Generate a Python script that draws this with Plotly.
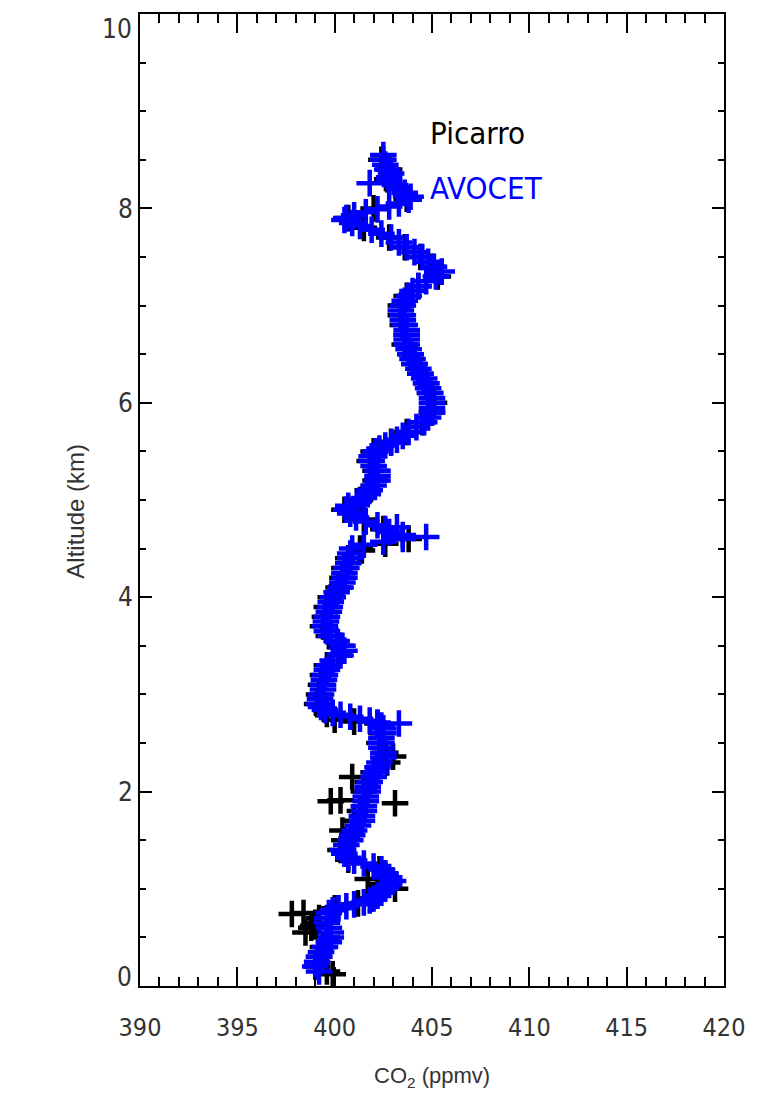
import plotly.graph_objects as go

# AVOCET (blue) profile: altitude (km) and CO2 (ppmv)
avocet_alt = [0.15, 0.20, 0.25, 0.30, 0.35, 0.40, 0.45, 0.50, 0.55, 0.60, 0.65, 0.70, 0.75, 0.78,
              0.80, 0.82, 0.84, 0.86, 0.88, 0.90, 0.93, 0.96, 1.00, 1.04, 1.08, 1.12, 1.16, 1.20,
              1.23, 1.26, 1.29, 1.32, 1.36, 1.40, 1.45, 1.50, 1.55, 1.60, 1.65, 1.70, 1.75, 1.80,
              1.85, 1.90, 1.95, 2.00, 2.05, 2.10, 2.15, 2.20, 2.25, 2.30, 2.35, 2.40, 2.45, 2.50,
              2.55, 2.60, 2.65, 2.68, 2.70, 2.71, 2.73, 2.75, 2.77, 2.79, 2.81, 2.84, 2.87, 2.90,
              2.95, 3.00, 3.05, 3.10, 3.15, 3.20, 3.25, 3.30, 3.35, 3.40, 3.45, 3.50, 3.55, 3.60,
              3.65, 3.70, 3.75, 3.80, 3.85, 3.90, 3.95, 4.00, 4.05, 4.10, 4.15, 4.20, 4.25, 4.30,
              4.35, 4.40, 4.45, 4.50, 4.54, 4.57, 4.60, 4.62, 4.64, 4.67, 4.70, 4.72, 4.74, 4.78,
              4.82, 4.86, 4.90, 4.94, 4.98, 5.02, 5.06, 5.10, 5.15, 5.20, 5.25, 5.30, 5.35, 5.40,
              5.45, 5.50, 5.53, 5.56, 5.59, 5.62, 5.66, 5.70, 5.75, 5.80, 5.85, 5.90, 5.95, 6.00,
              6.05, 6.10, 6.15, 6.20, 6.25, 6.30, 6.35, 6.40, 6.45, 6.50, 6.55, 6.60, 6.65, 6.70,
              6.75, 6.80, 6.85, 6.90, 6.95, 7.00, 7.05, 7.10, 7.15, 7.20, 7.25, 7.30, 7.35, 7.40,
              7.45, 7.50, 7.55, 7.60, 7.65, 7.70, 7.74, 7.78, 7.82, 7.85, 7.88, 7.90, 7.93, 7.96,
              7.99, 8.02, 8.05, 8.09, 8.12, 8.16, 8.20, 8.24, 8.26, 8.28, 8.32, 8.36, 8.40, 8.45,
              8.50, 8.55]
avocet_co2 = [399.2, 399.0, 399.1, 399.2, 399.3, 399.5, 399.7, 399.8, 399.8, 399.7, 399.6, 399.6, 399.7, 399.9,
              400.2, 400.6, 401.0, 401.5, 401.8, 402.0, 402.2, 402.4, 402.6, 402.8, 403.0, 402.8, 402.6, 402.4,
              402.0, 401.5, 401.0, 400.7, 400.5, 400.4, 400.6, 400.8, 400.9, 401.0, 401.2, 401.4, 401.4, 401.5,
              401.5, 401.6, 401.6, 401.7, 401.7, 401.8, 402.0, 402.1, 402.2, 402.3, 402.5, 402.5, 402.4, 402.4,
              402.4, 402.5, 402.5, 402.4, 403.3, 402.2, 401.8, 401.3, 400.8, 400.3, 399.9, 399.5, 399.3, 399.2,
              399.25, 399.3, 399.4, 399.4, 399.45, 399.5, 399.6, 399.7, 399.9, 400.3, 400.5, 400.4, 400.1, 399.8,
              399.6, 399.5, 399.55, 399.6, 399.7, 399.75, 399.8, 399.9, 400.1, 400.3, 400.4, 400.5, 400.5, 400.6,
              400.7, 400.8, 400.8, 400.9, 401.5, 402.5, 403.5, 404.7, 403.5, 402.8, 402.6, 403.2, 402.2, 401.6,
              401.1, 400.8, 400.6, 400.7, 401.2, 401.5, 401.7, 401.8, 402.0, 402.2, 402.2, 402.2, 402.0, 401.9,
              401.9, 402.1, 402.3, 402.6, 402.9, 403.2, 403.5, 403.8, 404.2, 404.6, 404.8, 405.0, 405.0, 405.0,
              405.0, 404.9, 404.8, 404.7, 404.6, 404.4, 404.3, 404.1, 404.0, 403.9, 403.8, 403.7, 403.7, 403.7,
              403.7, 403.6, 403.5, 403.5, 403.4, 403.5, 403.6, 403.8, 404.0, 404.3, 404.7, 405.2, 405.5, 405.1,
              404.8, 404.5, 404.1, 403.7, 403.3, 402.9, 402.4, 401.9, 401.3, 400.9, 400.5, 400.6, 401.0, 401.6,
              402.2, 402.8, 403.3, 403.8, 403.9, 403.6, 403.3, 403.1, 401.8, 402.8, 402.8, 402.9, 402.7, 402.6,
              402.5, 402.5]

# Picarro (black) profile
picarro_alt = [0.12, 0.15, 0.20, 0.30, 0.40, 0.50, 0.55, 0.60, 0.62, 0.65, 0.70, 0.74, 0.75, 0.80,
               0.85, 0.90, 0.95, 1.00, 1.05, 1.10, 1.15, 1.20, 1.30, 1.40, 1.50, 1.60, 1.70, 1.80,
               1.88, 1.90, 1.91, 2.00, 2.10, 2.15, 2.20, 2.30, 2.36, 2.40, 2.50, 2.60, 2.70, 2.72,
               2.74, 2.80, 2.90, 3.00, 3.10, 3.20, 3.30, 3.40, 3.50, 3.60, 3.70, 3.80, 3.90, 4.00,
               4.10, 4.20, 4.30, 4.40, 4.48, 4.50, 4.55, 4.60, 4.70, 4.80, 4.90, 5.00, 5.10, 5.20,
               5.30, 5.40, 5.50, 5.60, 5.70, 5.80, 5.90, 6.00, 6.10, 6.20, 6.30, 6.40, 6.50, 6.60,
               6.70, 6.80, 6.90, 7.00, 7.10, 7.20, 7.30, 7.40, 7.50, 7.60, 7.70, 7.80, 7.90, 8.00,
               8.10, 8.20, 8.30, 8.40, 8.50]
picarro_co2 = [399.9, 399.6, 399.1, 399.2, 399.4, 399.6, 398.5, 398.8, 398.9, 399.0, 399.2, 397.8, 398.4, 400.0,
               401.2, 401.9, 402.2, 403.1, 402.5, 401.7, 402.6, 402.3, 400.7, 400.3, 400.5, 400.4, 401.0, 401.3,
               403.1, 399.8, 400.3, 401.5, 401.7, 400.9, 402.0, 402.7, 403.0, 402.6, 402.3, 402.4, 402.2, 401.0,
               400.0, 399.6, 399.1, 399.2, 399.3, 399.4, 399.6, 400.2, 400.3, 399.7, 399.4, 399.5, 399.6, 399.8,
               400.2, 400.4, 400.5, 400.7, 401.4, 401.3, 402.6, 403.8, 402.5, 401.5, 400.5, 401.3, 401.7, 402.1,
               402.1, 401.8, 402.0, 402.9, 403.7, 404.5, 405.0, 405.1, 404.9, 404.7, 404.4, 404.1, 403.9, 403.6,
               403.7, 403.5, 403.4, 403.4, 403.7, 404.3, 405.3, 405.0, 404.4, 403.6, 402.8, 401.5, 400.7, 402.0,
               403.7, 403.2, 402.7, 402.8, 402.4]

x_ticks = [390, 395, 400, 405, 410, 415, 420]
y_ticks = [2, 4, 6, 8]

label_font = "Liberation Sans Narrow, DejaVu Sans Condensed, Arial Narrow, sans-serif"
title_font = "Liberation Sans, Arial, sans-serif"

fig = go.Figure()
fig.add_trace(go.Scatter(
    x=picarro_co2, y=picarro_alt, mode="markers", name="Picarro",
    marker=dict(symbol="cross-thin", size=19, color="black",
                line=dict(color="black", width=4.5)),
))
fig.add_trace(go.Scatter(
    x=avocet_co2, y=avocet_alt, mode="markers", name="AVOCET",
    marker=dict(symbol="cross-thin", size=19, color="#0000ff",
                line=dict(color="#0000ff", width=4.5)),
))

fig.add_annotation(x=404.8, y=8.78, xref="x", yref="y", text="Picarro", showarrow=False,
                   xanchor="left", yanchor="middle",
                   font=dict(family=label_font, size=31, color="black"))
fig.add_annotation(x=404.8, y=8.21, xref="x", yref="y", text="AVOCET", showarrow=False,
                   xanchor="left", yanchor="middle",
                   font=dict(family=label_font, size=31, color="#0000ff"))

# end labels of the y axis (drawn slightly inside the range, as in the original)
fig.add_annotation(x=0, y=10, xref="paper", yref="y", text="10", showarrow=False,
                   xanchor="right", yanchor="middle", xshift=-6, yshift=-15,
                   font=dict(family=label_font, size=26, color="#333333"))
fig.add_annotation(x=0, y=0, xref="paper", yref="y", text="0", showarrow=False,
                   xanchor="right", yanchor="middle", xshift=-6, yshift=9,
                   font=dict(family=label_font, size=26, color="#333333"))

# axis titles
fig.add_annotation(x=0.5, y=-0.0936, xref="paper", yref="paper", text="CO<sub>2</sub> (ppmv)",
                   showarrow=False, xanchor="center", yanchor="middle",
                   font=dict(family=title_font, size=22, color="#333333"))
fig.add_annotation(x=-0.1096, y=0.489, xref="paper", yref="paper", text="Altitude (km)",
                   showarrow=False, xanchor="center", yanchor="middle", textangle=-90,
                   font=dict(family=title_font, size=24, color="#333333"))

axis_common = dict(
    showline=True, linecolor="black", linewidth=2, mirror="allticks",
    ticks="inside", tickcolor="black", tickwidth=2,
    showgrid=False, zeroline=False,
)

fig.update_xaxes(
    range=[390, 420], tickvals=x_ticks, ticklen=19,
    minor=dict(dtick=1, ticks="inside", ticklen=9, tickcolor="black", tickwidth=2, showgrid=False),
    tickfont=dict(family=label_font, size=25, color="#333333"),
    ticklabelstandoff=18,
    **axis_common,
)
fig.update_yaxes(
    range=[0, 10], tickvals=y_ticks, ticklen=12,
    minor=dict(dtick=0.5, ticks="inside", ticklen=6, tickcolor="black", tickwidth=2, showgrid=False),
    tickfont=dict(family=label_font, size=26, color="#333333"),
    ticklabelstandoff=0,
    **axis_common,
)

# page body adds an 8 px margin; size the figure so the plot area lands where it does in the original
fig.update_layout(
    width=762, height=1101,
    margin=dict(l=132, r=46, t=6, b=123, autoexpand=False),
    paper_bgcolor="white", plot_bgcolor="white",
    showlegend=False,
)

fig.write_html("out.html")
